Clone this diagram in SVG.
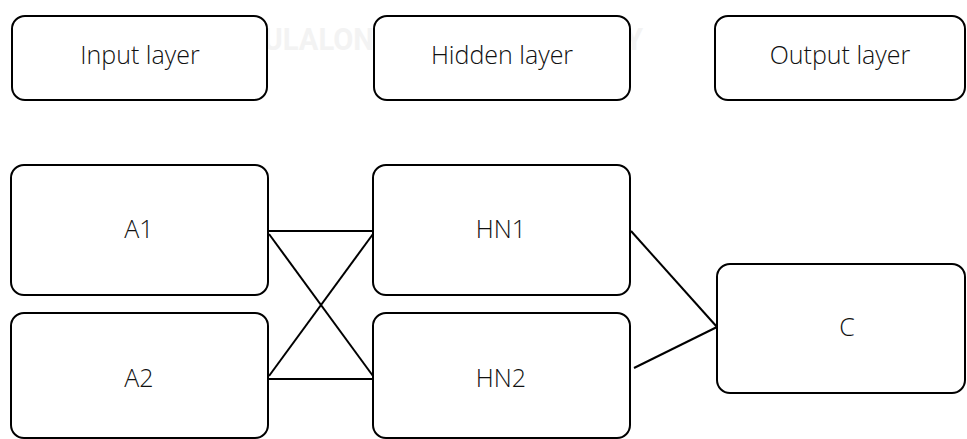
<svg xmlns="http://www.w3.org/2000/svg" width="967" height="439" viewBox="0 0 967 439">
  <style>
    .box { fill: #ffffff; stroke: #000000; stroke-width: 2; }
    .label { font-family: "Open Sans", "Noto Sans", "Liberation Sans", sans-serif; font-weight: 300; font-size: 25px; fill: #111111; text-anchor: middle; }
    .link { stroke: #000000; stroke-width: 2; fill: none; }
    .mark { font-family: "Roboto", "Liberation Sans", sans-serif; font-weight: 700; font-size: 32px; fill: #f3f3f3; }
  </style>

  <rect x="0" y="0" width="967" height="439" fill="#ffffff"/>

  <!-- faint background watermark, mostly covered by the boxes -->
  <text class="mark" x="224" y="50" textLength="419" lengthAdjust="spacingAndGlyphs">CHULALONGKORN UNIVERSITY</text>

  <!-- layer headers -->
  <g id="input-layer">
    <rect class="box" x="12" y="16" width="255" height="84" rx="13"/>
    <text class="label" x="140" y="64">Input layer</text>
  </g>
  <g id="hidden-layer">
    <rect class="box" x="374" y="16" width="256" height="84" rx="13"/>
    <text class="label" x="502" y="64">Hidden layer</text>
  </g>
  <g id="output-layer">
    <rect class="box" x="715" y="16" width="250" height="84" rx="13"/>
    <text class="label" x="840" y="64">Output layer</text>
  </g>

  <!-- connectors -->
  <g id="connectors">
    <line class="link" x1="268" y1="231" x2="373" y2="231"/>
    <line class="link" x1="268" y1="379" x2="373" y2="379"/>
    <line class="link" x1="269" y1="234" x2="373" y2="376"/>
    <line class="link" x1="269" y1="376" x2="373" y2="234"/>
    <line class="link" x1="631" y1="231" x2="717" y2="327"/>
    <line class="link" x1="634" y1="368" x2="717" y2="327"/>
  </g>

  <!-- input nodes -->
  <g id="A1">
    <rect class="box" x="11" y="165" width="257" height="130" rx="13"/>
    <text class="label" x="139" y="238">A1</text>
  </g>
  <g id="A2">
    <rect class="box" x="11" y="313" width="257" height="125" rx="13"/>
    <text class="label" x="139" y="387">A2</text>
  </g>

  <!-- hidden nodes -->
  <g id="HN1">
    <rect class="box" x="373" y="165" width="257" height="130" rx="13"/>
    <text class="label" x="501" y="238">HN1</text>
  </g>
  <g id="HN2">
    <rect class="box" x="373" y="313" width="257" height="125" rx="13"/>
    <text class="label" x="501" y="387">HN2</text>
  </g>

  <!-- output node -->
  <g id="C">
    <rect class="box" x="717" y="264" width="248" height="129" rx="13"/>
    <text class="label" x="847" y="336">C</text>
  </g>
</svg>
